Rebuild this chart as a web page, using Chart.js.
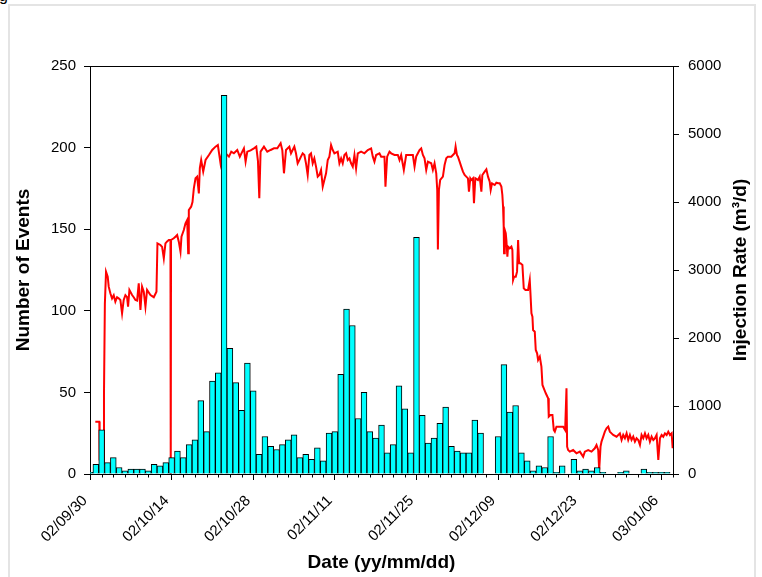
<!DOCTYPE html>
<html>
<head>
<meta charset="utf-8">
<script src="https://cdn.jsdelivr.net/npm/chart.js@4.4.1/dist/chart.umd.min.js"></script>
<style>
  html, body { margin: 0; padding: 0; background: #fff; }
  body { width: 762px; height: 577px; position: relative; overflow: hidden; font-family: "Liberation Sans", Arial, sans-serif; }
  #frame { position: absolute; left: 8px; top: 4px; width: 748px; height: 640px; box-sizing: border-box; border: 2px solid #e4e4e4; background: #fff; }
  #frag { position: absolute; left: -1px; top: -12px; font-size: 16px; line-height: 16px; color: #000; }
  #c { position: absolute; left: 0; top: 0; }
</style>
</head>
<body>
<div id="frame"></div>
<div id="frag">g</div>
<canvas id="c" width="762" height="577"></canvas>
<script>
// ---- data ----
const tickLabels = ['02/09/30','02/10/14','02/10/28','02/11/11','02/11/25','02/12/09','02/12/23','03/01/06'];

// daily number of events, one value per day starting 02/09/30
const eventCounts = [
  1, 6, 27, 7, 10, 4, 2, 3, 3, 3,
  2, 6, 5, 7, 10, 14, 10, 18, 21, 45,
  26, 57, 62, 232, 77, 56, 39, 68, 51, 12,
  23, 17, 15, 18, 21, 24, 10, 12, 9, 16,
  8, 25, 26, 61, 101, 91, 34, 50, 26, 22,
  30, 13, 18, 54, 40, 13, 145, 36, 19, 22,
  31, 41, 17, 14, 13, 13, 33, 25, 0, 0,
  23, 67, 38, 42, 13, 8, 2, 5, 4, 23,
  1, 5, 0, 9, 2, 3, 2, 4, 1, 0,
  0, 1, 2, 0, 0, 3, 1, 1, 1, 1
];

// injection rate time series: time (days since 02/09/30) and rate (m3/d)
const rateDays = [
  0.91, 1.6, 1.65, 1.75, 1.85, 1.95, 2.05, 2.15, 2.3, 2.4, 2.55, 2.75,
  3.04, 3.21, 3.49, 3.78, 4.07, 4.35, 4.64, 4.92, 5.21, 5.5, 5.78, 6.07, 6.36, 6.53, 6.76,
  7.22, 7.5, 7.79, 8.08, 8.36, 8.65, 8.93, 9.22, 9.51, 9.79, 10.37, 10.94, 11.4, 11.57,
  12.08, 12.37, 12.66, 12.94, 13.23, 13.52, 13.8, 13.85, 13.9, 14.0, 14.37, 14.66, 14.95,
  15.23, 15.52, 15.69, 16.09, 16.38, 16.67, 16.84, 16.95, 17.35, 17.58, 17.81, 18.1, 18.38,
  18.67, 18.84, 19.07, 19.42, 19.82, 20.4, 20.96, 21.53, 21.93, 22.39, 22.68, 23.25, 23.83,
  24.23, 24.68, 25.26, 25.7, 26.12, 26.4, 26.69, 26.98, 27.55, 28.12, 28.52, 28.81, 29.04,
  29.26, 29.84, 30.41, 30.98, 31.56, 32.13, 32.7, 32.99, 33.27,
  33.62, 34.19, 34.48, 35.05, 35.33, 35.62, 35.91, 36.19, 36.48, 36.77, 37.05, 37.34, 37.63,
  37.91, 38.2, 38.48, 38.77, 39.06, 39.34, 39.63, 39.92, 40.2, 40.49, 40.78, 41.06, 41.35,
  41.63, 41.92, 42.49, 42.78, 43.07, 43.35, 43.64, 43.93, 44.21, 44.5, 44.78, 45.07, 45.36,
  45.64, 45.93, 46.5, 47.07, 47.65, 48.22, 48.51, 48.79, 49.08, 49.65, 49.94, 50.51, 50.68,
  50.97, 51.37, 51.66, 52.23, 52.8, 53.09, 53.37, 53.83, 54.23, 54.81, 55.38, 55.67, 55.95,
  56.24, 56.52, 56.81, 57.1, 57.38, 57.67, 57.96, 58.53, 58.81, 59.1, 59.39, 59.56, 59.67,
  59.85, 60.07, 60.53, 60.82, 61.11, 61.39, 61.97, 62.25, 62.54, 62.71, 62.94, 63.11, 63.4,
  63.68, 63.97, 64.26, 64.54, 64.83, 65.0, 65.23, 65.4, 65.69, 65.86, 66.09, 66.55,
  66.84, 67.13, 67.3, 67.7, 67.99, 68.27, 68.56, 68.73, 68.96, 69.42, 69.7, 69.99, 70.28,
  70.56, 70.73, 70.85, 70.96, 71.02, 71.14, 71.31, 71.42, 71.59, 71.71, 71.99, 72.28, 72.45,
  72.57, 72.74, 73.03, 73.25, 73.43, 73.6, 73.83, 74.17, 74.4, 74.69, 75.14, 75.43, 75.55,
  75.72, 75.89, 76.0, 76.29, 76.46, 76.69, 76.86, 77.15, 77.43, 77.61, 77.84, 78.18, 78.58,
  78.69, 78.98, 79.32, 79.55, 79.73, 80.01, 80.59, 81.16, 81.5, 81.73, 81.84,
  82.01, 82.3, 82.87, 83.44, 84.02, 84.59, 84.88, 85.45, 86.02, 86.59, 86.88, 87.17, 87.34,
  87.57, 87.74, 88.03, 88.31, 88.6, 88.89, 89.17, 89.46, 89.74, 90.32, 90.89, 91.18, 91.46,
  91.75, 92.04, 92.32, 92.61, 92.89, 93.18, 93.47, 93.75, 94.04, 94.33, 94.61, 94.9, 95.19,
  95.47, 95.76, 96.04, 96.33, 96.62, 96.9, 97.19, 97.48, 97.76, 98.05, 98.33, 98.62, 98.91,
  99.19, 99.48, 99.77, 99.94
];
const rateValues = [
  770, 770, 200, 400, 100, 350, 150, 300, 150, 1200, 2500, 2975,
  2902, 2755, 2657, 2583, 2630, 2534, 2600, 2583, 2560, 2363, 2559, 2630, 2600, 2460, 2706,
  2632, 2600, 2559, 2550, 2804, 2412, 2755, 2680, 2461, 2706, 2632, 2600, 2681, 3392,
  3368, 3340, 3172, 3392, 3420, 3441, 3441, 0, 3441, 3441, 3466, 3490, 3515,
  3417, 3270, 3490, 3588, 3686, 3735, 3245, 3882, 3931, 4000, 4201, 4348, 4372,
  4127, 4500, 4618, 4446, 4618, 4691, 4765, 4814, 4838, 4569, 4740, 4716, 4667,
  4740, 4716, 4765, 4667, 4740, 4789, 4593, 4740, 4760, 4789, 4814, 4600, 4054,
  4740, 4814, 4740, 4765, 4789, 4789, 4863, 4760, 4422,
  4765, 4814, 4716, 4814, 4716, 4569, 4618, 4667, 4716, 4691, 4569, 4397, 4691,
  4716, 4569, 4642, 4520, 4373, 4397, 4471, 4226, 4324, 4422, 4618, 4667, 4838,
  4765, 4716, 4740, 4569, 4642, 4569, 4691, 4716, 4618, 4642, 4569, 4520, 4691,
  4495, 4716, 4740, 4716, 4765, 4789, 4667, 4593, 4691, 4716, 4667, 4667, 4226,
  4667, 4740, 4716, 4691, 4691, 4618, 4691, 4471, 4691, 4691, 4691, 4520, 4667,
  4716, 4765, 4789, 4691, 4642, 4471, 4593, 4569, 4471, 4569, 4422, 4177, 3300,
  4177, 4324, 4373, 4544, 4642, 4667, 4667, 4691, 4716, 4814, 4691, 4667, 4593,
  4520, 4446, 4397, 4373, 4348, 4152, 4348, 4324, 4348, 3981, 4348, 4324,
  4373, 4152, 4397, 4446, 4481, 4373, 4299, 4177, 4275, 4250, 4285, 4275, 4275,
  4226, 4103, 3932, 3638, 3245, 3589, 3540, 3441, 3196, 3343, 3319, 3343, 3294,
  2853, 2902, 2902, 2976, 3441, 3098, 3098, 3074, 2731, 2706, 2706, 2853, 2657,
  2363, 2314, 2118, 2093, 1824, 1775, 1677, 1726, 1579, 1309, 1260, 1187, 1113,
  843, 868, 868, 647, 623, 696, 696, 696, 647, 1260, 402,
  353, 329, 353, 304, 329, 255, 329, 353, 329, 378, 427, 353, 59,
  402, 476, 549, 623, 672, 697, 623, 598, 574, 549, 598, 500, 574,
  525, 598, 500, 574, 500, 549, 476, 525, 500, 427, 574, 525, 598,
  525, 574, 476, 549, 500, 525, 574, 206, 525, 574, 549, 598, 574,
  623, 574, 598, 378
];

// ---- build chart ----
const FONT = '"Liberation Sans", Arial, Helvetica, sans-serif';
Chart.defaults.font.family = FONT;
Chart.defaults.color = '#000';

const barData = eventCounts.map((v, i) => ({ x: i, y: v }));
const lineData = rateDays.map((d, i) => ({ x: d, y: rateValues[i] }));

const extras = {
  id: 'extras',
  afterDraw(chart) {
    const ctx = chart.ctx;
    const a = chart.chartArea;
    const xs = chart.scales.x;
    ctx.save();
    // top frame line
    ctx.strokeStyle = '#000';
    ctx.lineWidth = 1;
    ctx.beginPath();
    ctx.moveTo(a.left, Math.round(a.top) + 0.5);
    ctx.lineTo(a.right + 1, Math.round(a.top) + 0.5);
    ctx.stroke();
    // minor ticks on the date axis
    ctx.beginPath();
    xs.ticks.forEach(t => {
      if (Math.round(t.value) % 14 !== 0) {
        const px = Math.round(xs.getPixelForValue(t.value)) + 0.5;
        ctx.moveTo(px, a.bottom);
        ctx.lineTo(px, a.bottom + 3.5);
      }
    });
    ctx.stroke();
    // right axis title (reads bottom-to-top)
    ctx.fillStyle = '#000';
    ctx.font = 'bold 19px ' + FONT;
    ctx.textAlign = 'center';
    ctx.textBaseline = 'middle';
    ctx.translate(741, (a.top + a.bottom) / 2);
    ctx.rotate(-Math.PI / 2);
    ctx.fillText('Injection Rate (m\u00B3/d)', 0, 0);
    ctx.restore();
  }
};

new Chart(document.getElementById('c'), {
  type: 'bar',
  data: {
    datasets: [
      {
        type: 'bar',
        label: 'Number of Events',
        data: barData,
        xAxisID: 'x',
        yAxisID: 'y',
        backgroundColor: '#00ffff',
        borderColor: '#000',
        borderWidth: 1,
        barPercentage: 1,
        categoryPercentage: 1,
        order: 0
      },
      {
        type: 'line',
        label: 'Injection Rate',
        data: lineData,
        xAxisID: 'x',
        yAxisID: 'y2',
        borderColor: '#ff0000',
        borderWidth: 2,
        pointRadius: 0,
        tension: 0,
        fill: false,
        order: 1
      }
    ]
  },
  options: {
    responsive: false,
    animation: false,
    events: [],
    layout: { padding: { top: 66, left: 0, right: 0, bottom: 0 } },
    plugins: { legend: { display: false }, tooltip: { enabled: false } },
    scales: {
      x: {
        type: 'linear',
        position: 'bottom',
        min: 0,
        max: 100,
        offset: false,
        afterFit(s) { s.height = 103; },
        ticks: {
          stepSize: 2,
          autoSkip: false,
          maxRotation: 45,
          minRotation: 45,
          padding: 12,
          labelOffset: -5,
          font: { size: 15 },
          color: '#000',
          callback(v) {
            const r = Math.round(v);
            return r % 14 === 0 ? tickLabels[r / 14] : '';
          }
        },
        grid: {
          offset: false,
          drawOnChartArea: false,
          drawTicks: true,
          tickLength: 6,
          tickColor: c => (c.tick && Math.round(c.tick.value) % 14 === 0) ? '#000' : 'rgba(0,0,0,0)',
          color: '#000'
        },
        border: { display: true, color: '#000', width: 1 },
        title: {
          display: true,
          text: 'Date (yy/mm/dd)',
          font: { size: 19, weight: 'bold' },
          color: '#000',
          padding: { top: 0, bottom: 3 }
        }
      },
      y: {
        type: 'linear',
        position: 'left',
        min: 0,
        max: 250,
        afterFit(s) { s.width = 90; },
        ticks: { stepSize: 50, padding: 8, font: { size: 15 }, color: '#000', callback: v => String(v) },
        grid: { drawOnChartArea: false, drawTicks: true, tickLength: 6, color: '#000' },
        border: { display: true, color: '#000', width: 1 },
        title: {
          display: true,
          text: 'Number of Events',
          font: { size: 19, weight: 'bold' },
          color: '#000',
          padding: { top: 12, bottom: 0 }
        }
      },
      y2: {
        type: 'linear',
        position: 'right',
        min: 0,
        max: 6000,
        afterFit(s) { s.width = 89; },
        ticks: { stepSize: 1000, padding: 9, font: { size: 15 }, color: '#000', callback: v => String(v) },
        grid: { drawOnChartArea: false, drawTicks: true, tickLength: 6, color: '#000' },
        border: { display: true, color: '#000', width: 1 }
      }
    }
  },
  plugins: [extras]
});
</script>
</body>
</html>
